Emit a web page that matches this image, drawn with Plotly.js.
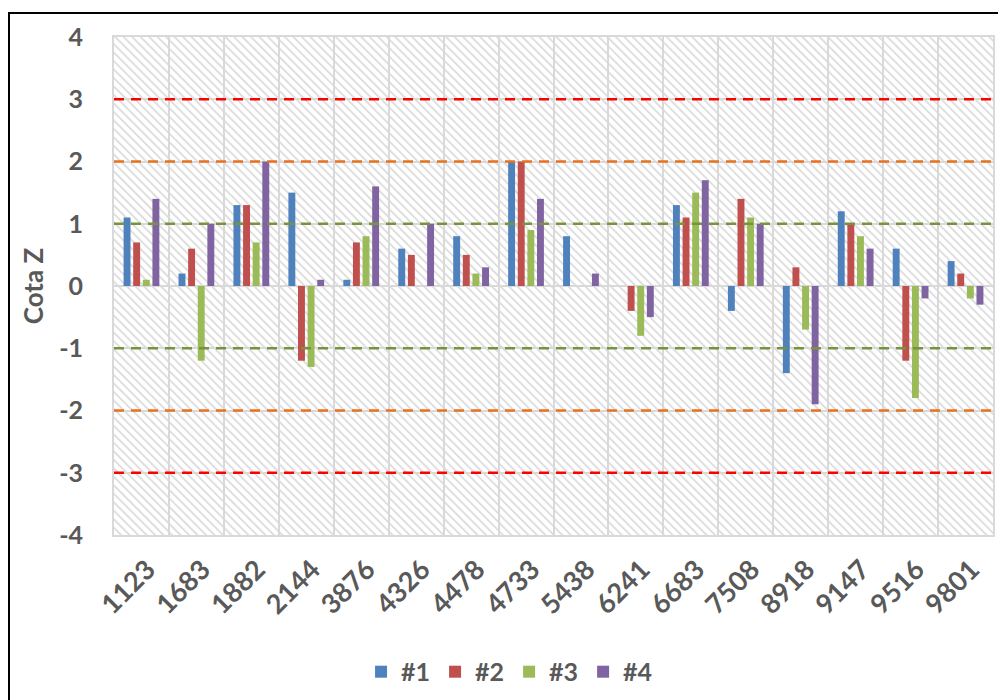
<!DOCTYPE html>
<html>
<head>
<meta charset="utf-8">
<script src="https://cdn.plot.ly/plotly-3.0.1.min.js"></script>
<style>
  html, body { margin: 0; padding: 0; background: #ffffff; overflow: hidden; width: 1002px; height: 700px; }
  #chart { width: 1002px; height: 700px; position: relative; }
  .fline { position: absolute; background: #000; pointer-events: none; }
  #ftop { left: 8px; top: 12px; width: 990px; height: 2px; }
  #fleft { left: 8px; top: 12px; width: 2px; height: 688px; }
</style>
</head>
<body>
<div id="chart"></div>
<div id="ftop" class="fline"></div>
<div id="fleft" class="fline"></div>
<script>
// ---- data ----
const categories = ["1123","1683","1882","2144","3876","4326","4478","4733","5438","6241","6683","7508","8918","9147","9516","9801"];
const s1 = [1.1, 0.2, 1.3, 1.5, 0.1, 0.6, 0.8, 2.0, 0.8, 0, 1.3, -0.4, -1.4, 1.2, 0.6, 0.4];
const s2 = [0.7, 0.6, 1.3, -1.2, 0.7, 0.5, 0.5, 2.0, 0, -0.4, 1.1, 1.4, 0.3, 1.0, -1.2, 0.2];
const s3 = [0.1, -1.2, 0.7, -1.3, 0.8, 0, 0.2, 0.9, 0, -0.8, 1.5, 1.1, -0.7, 0.8, -1.8, -0.2];
const s4 = [1.4, 1.0, 2.0, 0.1, 1.6, 1.0, 0.3, 1.4, 0.2, -0.5, 1.7, 1.0, -1.9, 0.6, -0.2, -0.3];
const seriesNames = ["#1", "#2", "#3", "#4"];
const yTickVals = [-4, -3, -2, -1, 0, 1, 2, 3, 4];
const yTickText = ["-4", "-3", "-2", "-1", "0", "1", "2", "3", "4"];
const limitLevels = [1, 2, 3];

// ---- styles ----
const colors = ["#4f81bd", "#c0504d", "#9bbb59", "#8064a2"];
const limitColors = ["#77933c", "#e8731c", "#ff0000"];
const FONT = "Lato, 'Open Sans', sans-serif";
const GREY = "#595959";

const traces = [s1, s2, s3, s4].map((vals, i) => ({
  type: "bar",
  x: categories,
  y: vals,
  name: seriesNames[i],
  marker: { color: colors[i] },
  hoverinfo: "x+y+name"
}));

const shapes = [];
limitLevels.forEach((lv, i) => {
  [lv, -lv].forEach(v => {
    shapes.push({
      type: "line", xref: "paper", x0: 0, x1: 1, yref: "y", y0: v, y1: v,
      line: { color: limitColors[i], width: 2.5, dash: "10px,7px" },
      layer: "above"
    });
  });
});

const svg = "<svg xmlns='http://www.w3.org/2000/svg' width='879' height='498' viewBox='0 0 879 498' preserveAspectRatio='none'>" +
  "<defs><pattern id='p' width='6' height='6' patternUnits='userSpaceOnUse' patternTransform='rotate(-45)'>" +
  "<rect x='0' y='0' width='1.7' height='6' fill='#dadada'/></pattern></defs>" +
  "<rect width='879' height='498' fill='#ffffff'/><rect width='879' height='498' fill='url(#p)'/></svg>";
const hatch = "data:image/svg+xml;base64," + btoa(svg);

const layout = {
  width: 1002,
  height: 700,
  margin: { l: 114, r: 9, t: 37, b: 165, autoexpand: false },
  paper_bgcolor: "#ffffff",
  plot_bgcolor: "rgba(0,0,0,0)",
  font: { family: FONT, color: GREY },
  barmode: "group",
  bargap: 0.3,
  bargroupgap: 0.28,
  showlegend: true,
  legend: {
    orientation: "h", x: 0.45, xanchor: "center", y: -0.275, yanchor: "middle",
    font: { family: FONT, size: 25, color: GREY, weight: "bold" },
    itemwidth: 30, traceorder: "normal"
  },
  xaxis: {
    type: "category",
    tickson: "boundaries",
    showgrid: true, gridcolor: "#d9d9d9", gridwidth: 2,
    showline: true, linecolor: "#d9d9d9", linewidth: 2, mirror: true,
    ticks: "", tickangle: -45,
    ticklabelstandoff: 6,
    ticklabelshift: 6,
    tickfont: { family: FONT, size: 27, color: GREY, weight: "bold" },
    zeroline: false
  },
  yaxis: {
    range: [-4, 4],
    tickvals: yTickVals, ticktext: yTickText,
    showgrid: true, gridcolor: "#d9d9d9", gridwidth: 2,
    zeroline: true, zerolinecolor: "#d9d9d9", zerolinewidth: 2,
    showline: true, linecolor: "#d9d9d9", linewidth: 2, mirror: true,
    ticks: "",
    ticklabelstandoff: 24,
    tickfont: { family: FONT, size: 25, color: GREY, weight: "bold" },
    title: { text: "Cota Z", font: { family: FONT, size: 26, color: GREY, weight: "bold" }, standoff: 8 }
  },
  shapes: shapes,
  images: [{
    source: hatch, xref: "paper", yref: "paper", x: 0, y: 1, sizex: 1, sizey: 1,
    xanchor: "left", yanchor: "top", sizing: "stretch", layer: "below"
  }]
};

Plotly.newPlot("chart", traces, layout, { displayModeBar: false, staticPlot: true });
</script>
</body>
</html>
